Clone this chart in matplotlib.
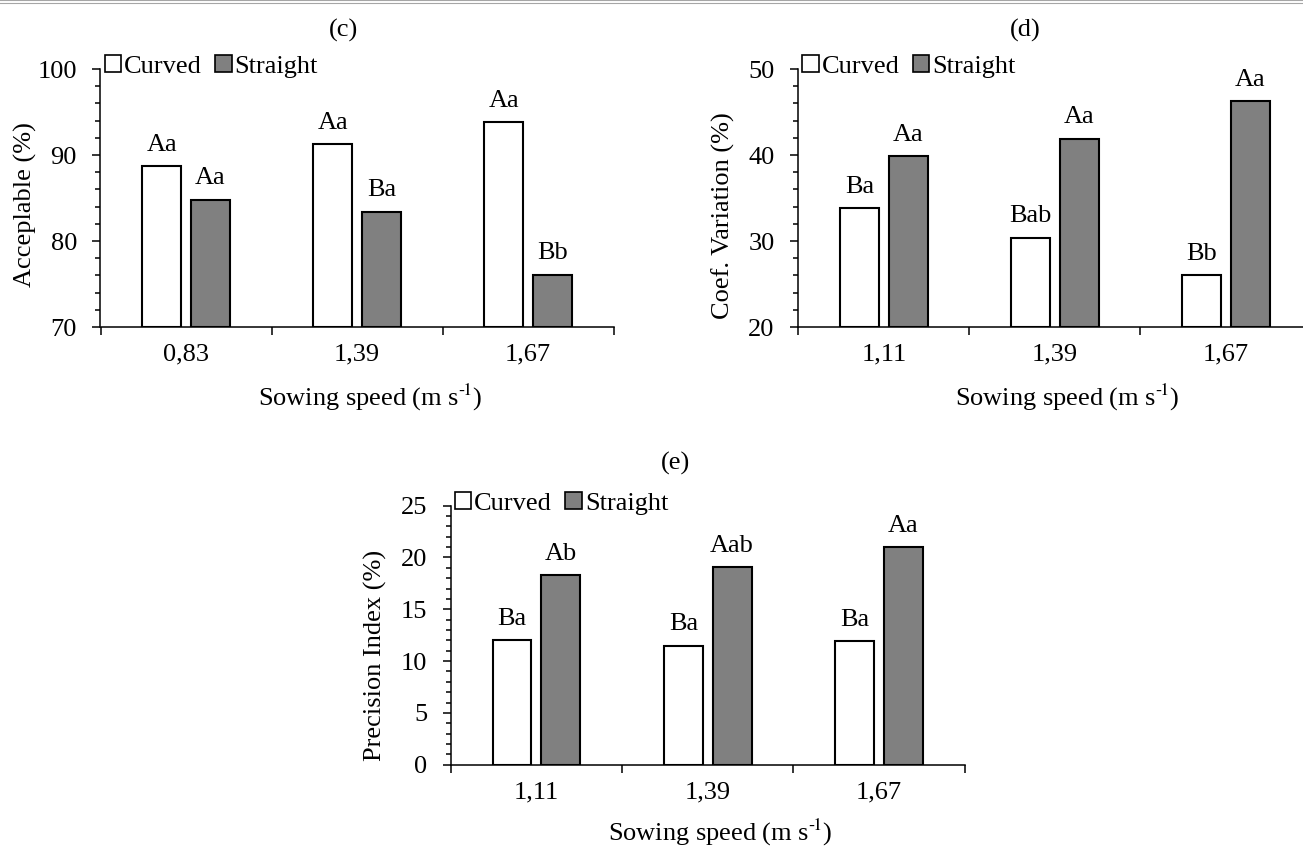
import matplotlib
matplotlib.use("Agg")
import matplotlib.pyplot as plt
from matplotlib.ticker import MultipleLocator, FixedLocator, NullFormatter
from matplotlib.patches import Patch
from matplotlib.lines import Line2D

plt.rcParams['font.family'] = ['Liberation Serif', 'DejaVu Serif']
plt.rcParams['mathtext.fontset'] = 'stix'

# panel (c)
speeds_c = ["0,83", "1,39", "1,67"]
curved_c = [88.7, 91.3, 93.8]
straight_c = [84.8, 83.4, 76.1]
curved_c_lbl = ["Aa", "Aa", "Aa"]
straight_c_lbl = ["Aa", "Ba", "Bb"]

# panel (d)
speeds_d = ["1,11", "1,39", "1,67"]
curved_d = [33.8, 30.4, 26.0]
straight_d = [39.9, 41.9, 46.3]
curved_d_lbl = ["Ba", "Bab", "Bb"]
straight_d_lbl = ["Aa", "Aa", "Aa"]

# panel (e)
speeds_e = ["1,11", "1,39", "1,67"]
curved_e = [12.0, 11.5, 11.9]
straight_e = [18.3, 19.1, 21.0]
curved_e_lbl = ["Ba", "Ba", "Ba"]
straight_e_lbl = ["Ab", "Aab", "Aa"]

W, H = 1303, 847
FS = 19
GREY = "#808080"
XLABEL = "Sowing speed (m s$^{\u2010\\!1}$)"

fig = plt.figure(figsize=(W / 100, H / 100), dpi=100)


def px_axes(left, top, width, height):
    return fig.add_axes([left / W, (H - top - height) / H, width / W, height / H])


def panel(ax, cats, curved, straight, lab_c, lab_s, ylim, major, minor, ylabel, ylab_y, xlab_y):
    x = range(len(cats))
    off, w = 0.1425, 0.227
    ax.bar([i - off for i in x], [v - ylim[0] for v in curved], w, bottom=ylim[0],
           color="white", edgecolor="black", linewidth=1.5, zorder=3)
    ax.bar([i + off for i in x], [v - ylim[0] for v in straight], w, bottom=ylim[0],
           color=GREY, edgecolor="black", linewidth=1.5, zorder=3)
    for i in x:
        ax.annotate(lab_c[i], (i - off, curved[i]), xytext=(0, 11), textcoords="offset points",
                    ha="center", va="baseline", fontsize=FS)
        ax.annotate(lab_s[i], (i + off, straight[i]), xytext=(0, 11), textcoords="offset points",
                    ha="center", va="baseline", fontsize=FS)

    ax.set_xlim(-0.5, len(cats) - 0.5)
    ax.set_ylim(*ylim)
    for s in ["top", "right"]:
        ax.spines[s].set_visible(False)
    for s in ["left", "bottom"]:
        ax.spines[s].set_linewidth(1.1)

    # x: boundary ticks, labels at centres
    ax.xaxis.set_major_locator(FixedLocator([i - 0.5 for i in range(len(cats) + 1)]))
    ax.xaxis.set_major_formatter(NullFormatter())
    ax.set_xticks(list(x), cats, minor=True)
    ax.tick_params(axis="x", which="major", length=6, width=1.1, direction="out")
    ax.tick_params(axis="x", which="minor", length=0, pad=12, labelsize=FS)

    ax.yaxis.set_major_locator(MultipleLocator(major))
    ax.yaxis.set_minor_locator(MultipleLocator(minor))
    ax.tick_params(axis="y", which="major", length=6, width=1.1, pad=11, labelsize=FS)
    ax.tick_params(axis="y", which="minor", length=3.8, width=1.1)

    ax.set_xlabel(XLABEL, fontsize=FS)
    ax.xaxis.set_label_coords(0.525, xlab_y)
    ax.xaxis.label.set_va("center")
    ax.set_ylabel(ylabel, fontsize=FS)
    ax.yaxis.set_label_coords(-0.146, ylab_y)
    ax.yaxis.label.set_va("center")

    handles = [Patch(facecolor="white", edgecolor="black", linewidth=1.2),
               Patch(facecolor=GREY, edgecolor="black", linewidth=1.2)]
    ax.legend(handles, ["Curved", "Straight"], loc="center left", bbox_to_anchor=(0.008, 1.01),
              ncol=2, frameon=False, fontsize=FS, handlelength=0.62, handleheight=0.62,
              handletextpad=0.12, columnspacing=0.5, borderpad=0, borderaxespad=0)


ax_c = px_axes(100.5, 69, 513, 258)
panel(ax_c, speeds_c, curved_c, straight_c, curved_c_lbl, straight_c_lbl,
      (70, 100), 10, 2, "Acceplable (%)", 0.475, -0.275)

ax_d = px_axes(798.3, 69, 513, 258)
panel(ax_d, speeds_d, curved_d, straight_d, curved_d_lbl, straight_d_lbl,
      (20, 50), 10, 2, "Coef. Variation (%)", 0.43, -0.275)

ax_e = px_axes(450.7, 505.7, 514, 259)
panel(ax_e, speeds_e, curved_e, straight_e, curved_e_lbl, straight_e_lbl,
      (0, 25), 5, 1, "Precision Index (%)", 0.42, -0.26)

fig.text(343 / W, 1 - 30 / H, "(c)", ha="center", va="center", fontsize=FS)
fig.text(1025 / W, 1 - 30 / H, "(d)", ha="center", va="center", fontsize=FS)
fig.text(676 / W, 1 - 463 / H, "(e)", ha="center", va="center", fontsize=FS)

# page border lines at the very top
fig.add_artist(Line2D([0, 1], [1 - 0.5 / H, 1 - 0.5 / H], color="#a6a6a6", linewidth=0.8))
fig.add_artist(Line2D([0, 1], [1 - 3.5 / H, 1 - 3.5 / H], color="#a6a6a6", linewidth=0.8))

fig.savefig("out.png", dpi=100)
